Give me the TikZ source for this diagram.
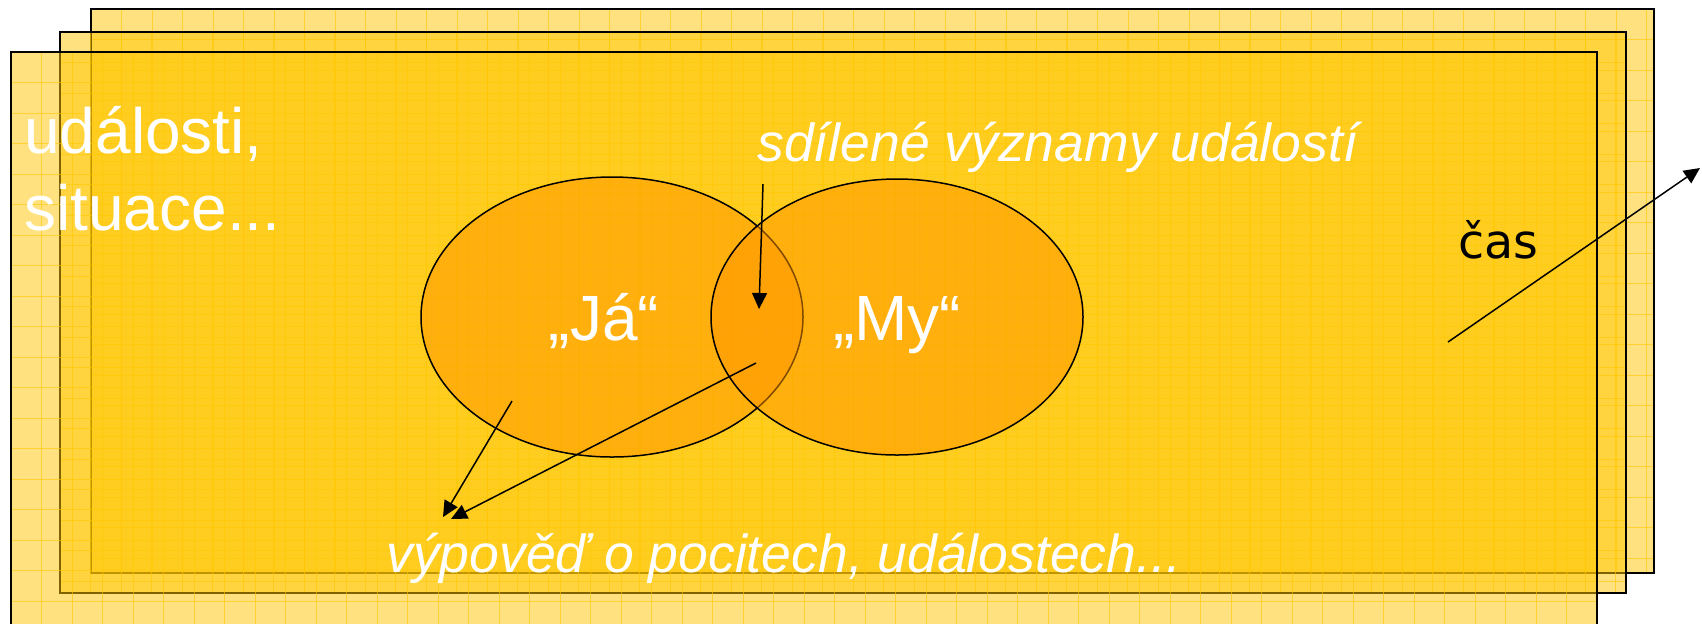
\documentclass[tikz,border=0pt]{standalone}
\usepackage{fontspec}
\setmainfont{Liberation Sans}
\newfontfamily\verdana{DejaVu Sans}
\usetikzlibrary{arrows.meta}
\definecolor{sheet}{HTML}{FFC600}
\definecolor{venn}{HTML}{FF9400}

\begin{document}
\begin{tikzpicture}[
    x=0.5pt, y=-0.5pt, >={Triangle[length=8pt, width=7.5pt]},
    lab/.style={inner sep=0pt, text=white},
    big/.style={lab, font=\fontsize{32}{38.5}\selectfont},
    note/.style={lab, font=\fontsize{26.75}{32}\selectfont\itshape},
    sheetgrid/.style={sheet, line width=0.5pt, draw opacity=0.6},
    pointer/.style={->, line width=0.75pt},
]
% coordinates are pixels of the 1702x623 slide, y pointing down
\useasboundingbox (0,0) rectangle (1702,623);
\clip (0,0) rectangle (1702,623);

% three stacked sheets, back to front
\foreach \xa/\ya/\xb/\yb in {91/9/1654/573, 60/32/1626/593, 11/52/1597/660} {
  \fill[sheet, fill opacity=0.5] (\xa,\ya) rectangle (\xb,\yb);
  \begin{scope}
    \clip (\xa,\ya) rectangle (\xb,\yb);
    \foreach \k in {1,...,52}
      \draw[sheetgrid] ({\xa+\k*30.5},\ya) -- ({\xa+\k*30.5},\yb);
    \foreach \k in {1,...,20}
      \draw[sheetgrid] (\xa,{\ya+\k*30.5}) -- (\xb,{\ya+\k*30.5});
  \end{scope}
  \draw[line width=1pt] (\xa,\ya) rectangle (\xb,\yb);
}

% "Ja" and "My"
\filldraw[fill=venn, fill opacity=0.5, line width=0.75pt]
    (612,317) ellipse [x radius=191, y radius=140];
\filldraw[fill=venn, fill opacity=0.5, line width=0.75pt]
    (897,317) ellipse [x radius=186, y radius=138];

% labels
\node[big, anchor=base west] (events) at (24,153) {události,};
\node[big, anchor=base west] (situations) at (24,230) {situace...};
\node[note, anchor=base west] (shared) at (757,161) {sdílené významy událostí};
\node[note, anchor=base west] (utter) at (386,572) {výpověď o pocitech, událostech...};
\node[big, anchor=base] (ja) at (604,340) {„Já“};
\node[big, anchor=base] (my) at (897,340) {„My“};
\node[inner sep=0pt, font=\verdana\fontsize{23.8}{28}\selectfont, anchor=base west]
    (time) at (1458,258) {čas};

% arrow ends
\coordinate (shared tail) at (763,184);
\coordinate (overlap) at (759,309);
\coordinate (ja tail) at (512,401);
\coordinate (utter tipA) at (443,517);
\coordinate (overlap tail) at (756,363);
\coordinate (utter tipB) at (451,519);
\coordinate (time tail) at (1448,342);
\coordinate (time tip) at (1700,168);

\draw[pointer] (shared tail) -- (overlap);
\draw[pointer] (ja tail) -- (utter tipA);
\draw[pointer] (overlap tail) -- (utter tipB);
\draw[pointer] (time tail) -- (time tip);

\end{tikzpicture}
\end{document}
